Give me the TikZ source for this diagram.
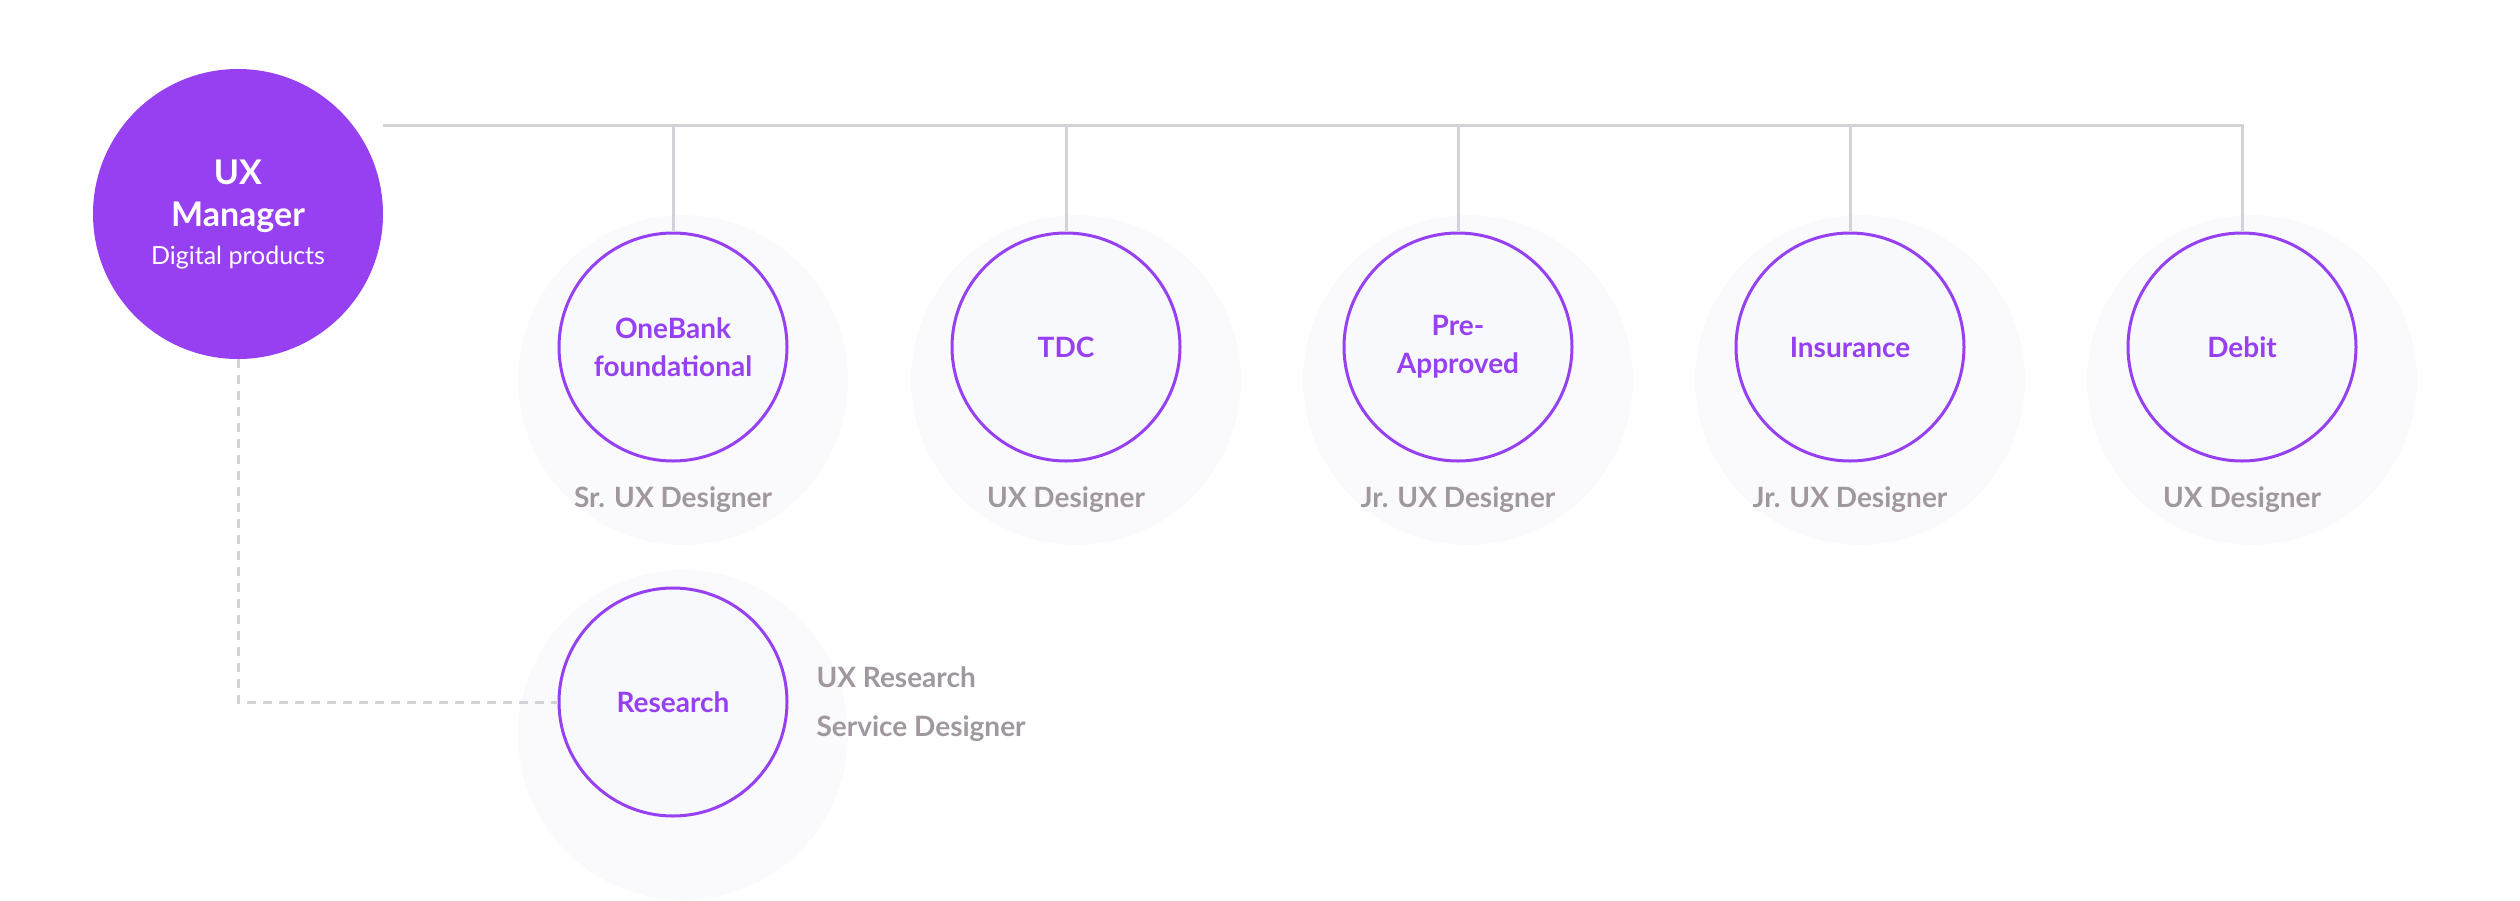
\documentclass[tikz,border=0pt]{standalone}
\usepackage{fontspec}
\setmainfont{Lato}
\usetikzlibrary{positioning,calc}
\definecolor{ux_purple}{RGB}{151, 64, 242}
\definecolor{ux_gray}{RGB}{160, 152, 158}
\definecolor{ux_line}{RGB}{210, 210, 216}
\definecolor{ux_fill}{RGB}{248, 249, 253}
\definecolor{ux_glow}{RGB}{246, 247, 252}
\tikzstyle{mgr}=[circle,fill=ux_purple,text=white,minimum size=290pt,inner sep=0pt,
  align=center,font=\bfseries\fontsize{34}{42}\selectfont]
\tikzstyle{team}=[circle,draw=ux_purple,fill=ux_fill,line width=3pt,minimum size=228pt,
  inner sep=0pt,align=center,text=ux_purple,font=\bfseries\fontsize{28}{38}\selectfont]
\tikzstyle{role}=[text=ux_gray,font=\bfseries\fontsize{28}{32}\selectfont]
\tikzstyle{glow}=[circle,fill=ux_glow,fill opacity=0.6,minimum size=330pt,draw=none]
\tikzstyle{link}=[draw=ux_line,line width=3pt]
\begin{document}
\begin{tikzpicture}[x=1pt,y=-1pt]
            \useasboundingbox (0,0) rectangle (2520,900);
            % soft glows
            \foreach \x in {673,1066,1458,1850,2242}
                \node [style=glow] at (\x+10,380) {};
            \node [style=glow] at (683,735) {};
            \coordinate (t) at (383,125);
            \coordinate (c) at (238,702);
            \node [style=mgr] (m) at (238,214) {UX\\Manager\\[-4pt]{\mdseries\fontsize{25}{30}\selectfont Digital products}};
            \node [style=team] (1) at (673,347) {OneBank\\foundational};
            \node [style=team] (2) at (1066,347) {TDC};
            \node [style=team] (3) at (1458,347) {Pre-\\Approved};
            \node [style=team] (4) at (1850,347) {Insurance};
            \node [style=team] (5) at (2242,347) {Debit};
            \node [style=team] (r) at (673,702) {Research};
            \node [style=role] at (673,500) {Sr. UX Designer};
            \node [style=role] at (1066,500) {UX Designer};
            \node [style=role] at (1458,500) {Jr. UX Designer};
            \node [style=role] at (1850,500) {Jr. UX Designer};
            \node [style=role] at (2242,500) {UX Designer};
            \node [style=role,anchor=west] (ur) at (813,677) {UX Research};
            \node [style=role,anchor=west] (sd) at (813,729) {Service Designer};
            \draw [style=link] (t) -- (2242,125) -- (5);
            \foreach \n in {1,2,3,4}
                \draw [style=link] (\n |- t) -- (\n);
            \draw [draw=ux_line,line width=3pt,dash pattern=on 9pt off 7pt] (m) -- (c) -- (r);
    \end{tikzpicture}
\end{document}
